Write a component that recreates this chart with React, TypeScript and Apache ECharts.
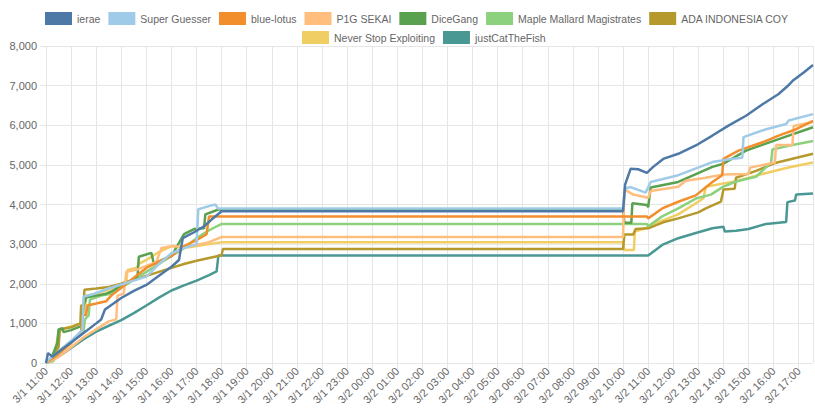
import React, { useEffect, useRef } from "react";
import * as echarts from "echarts";

// x values: hours elapsed since 3/1 11:00
const START_MONTH = 3;
const START_DAY = 1;
const START_HOUR = 11;
const X_MAX = 30.57;
const Y_TICKS = [0, 1000, 2000, 3000, 4000, 5000, 6000, 7000, 8000];

const TEAMS = [
  "ierae",
  "Super Guesser",
  "blue-lotus",
  "P1G SEKAI",
  "DiceGang",
  "Maple Mallard Magistrates",
  "ADA INDONESIA COY",
  "Never Stop Exploiting",
  "justCatTheFish",
];

const COLORS = [
  "#4e79a7",
  "#a0cbe8",
  "#f28e2b",
  "#ffbe7d",
  "#59a14f",
  "#8cd17d",
  "#b6992d",
  "#f1ce63",
  "#499894",
];

const ierae = [
  [0, 0], [0.08, 250], [0.25, 160], [0.6, 330], [1, 520], [1.5, 760], [2, 1000], [2.2, 1100],
  [2.35, 1350], [3, 1640], [3.5, 1820], [4, 1970], [4.5, 2200], [5, 2430], [5.3, 2600],
  [5.45, 3150], [5.9, 3300], [6.3, 3450], [6.6, 3620], [7, 3830], [23.0, 3830], [23.08, 4500],
  [23.3, 4900], [23.6, 4890], [23.95, 4800], [24.2, 4950], [24.6, 5150], [25.2, 5280],
  [25.9, 5490], [26.56, 5740], [27.2, 5990], [27.9, 6240], [28.56, 6530], [29.2, 6790],
  [29.56, 6990], [29.76, 7120], [30.2, 7330], [30.57, 7520],
];

const superGuesser = [
  [0, 0], [0.1, 80], [0.5, 280], [1, 560], [1.45, 830], [1.5, 1680], [1.8, 1720], [2.4, 1860],
  [3, 1980], [3.5, 2080], [4, 2180], [4.2, 2300], [4.5, 2500], [5, 2770], [5.5, 2900],
  [6.0, 3000], [6.07, 3880], [6.5, 3960], [6.75, 4000], [6.85, 3900], [7, 3900], [23, 3900],
  [23.08, 4400], [23.3, 4440], [23.9, 4300], [24.1, 4570], [25.2, 4740], [26.56, 5070],
  [27.3, 5150], [27.75, 5180], [27.8, 5700], [28.7, 5900], [29.5, 6030], [29.6, 6120],
  [30.57, 6280],
];

const blueLotus = [
  [0, 0], [0.5, 230], [1, 500], [1.4, 800], [1.45, 1200], [1.6, 1220], [1.65, 1450], [2, 1500],
  [2.4, 1560], [2.6, 1700], [3, 1900], [3.5, 2150], [4, 2400], [4.5, 2560], [5, 2700],
  [5.5, 2950], [6, 3100], [6.4, 3250], [6.5, 3700], [7, 3700], [23.95, 3700], [24.0, 3650],
  [24.56, 3900], [25.2, 4070], [25.9, 4230], [26.56, 4570], [26.95, 4740], [27.0, 5150],
  [27.6, 5360], [28.56, 5570], [29.2, 5740], [29.9, 5900], [30.57, 6110],
];

const p1gSekai = [
  [0, 0], [0.5, 150], [1, 400], [1.5, 650], [2, 850], [2.5, 1050], [2.8, 1100], [2.85, 1700],
  [3.1, 1750], [3.2, 2300], [3.6, 2350], [4, 2450], [4.4, 2550], [4.6, 2900], [5, 2950],
  [5.5, 2930], [6, 2980], [6.5, 3050], [7, 3180], [23, 3180], [23.05, 4380], [23.4, 4250],
  [24.0, 4170], [24.1, 4340], [25.2, 4450], [25.5, 4600], [26.3, 4675], [27.0, 4760],
  [28.0, 4770], [28.06, 4930], [29.05, 5060], [29.1, 5500], [29.75, 5500], [29.8, 5980],
  [30.57, 6080],
];

const diceGang = [
  [0, 0], [0.2, 100], [0.45, 500], [0.5, 850], [0.65, 880], [0.7, 780], [1, 830], [1.4, 930],
  [1.5, 1450], [1.6, 1650], [2, 1700], [2.4, 1750], [2.6, 1800], [3, 1950], [3.5, 2100],
  [3.65, 2200], [3.7, 2680], [4.2, 2780], [4.3, 2500], [4.8, 2650], [5, 2700], [5.5, 3250],
  [5.9, 3380], [6.3, 3400], [6.35, 3750], [6.9, 3880], [7, 3860], [23, 3860], [23.05, 3540],
  [23.33, 3540], [23.37, 4030], [23.95, 3990], [24.0, 3930], [24.1, 4430], [25.2, 4570],
  [26.56, 4950], [27, 5030], [27.9, 5360], [29.2, 5650], [30.57, 5950],
];

const mapleMallard = [
  [0, 0], [0.3, 50], [0.5, 300], [1, 550], [1.5, 800], [1.55, 1100], [1.7, 1200], [1.75, 1600],
  [2.2, 1700], [2.6, 1750], [3, 1900], [3.5, 2100], [4, 2300], [4.5, 2500], [5, 2700],
  [5.5, 2900], [6, 3150], [6.5, 3350], [7, 3510], [23.95, 3510], [24.0, 3450], [24.56, 3700],
  [25.2, 3900], [25.9, 4150], [26.5, 4250], [27, 4450], [27.5, 4580], [28.3, 4700],
  [28.9, 5060], [28.95, 5390], [29.5, 5470], [30.57, 5600],
];

const adaIndonesia = [
  [0, 0], [0.2, 100], [0.5, 400], [0.55, 820], [0.65, 860], [1, 900], [1.37, 1000], [1.4, 1450],
  [1.5, 1460], [1.53, 1850], [2, 1880], [2.5, 1920], [3, 2000], [3.5, 2100], [4, 2200],
  [4.5, 2300], [5, 2400], [5.5, 2500], [6, 2580], [6.5, 2650], [7, 2720], [7.05, 2880],
  [23, 2880], [23.05, 3240], [23.4, 3240], [23.5, 3380], [24, 3400], [24.2, 3450],
  [24.6, 3550], [25.2, 3650], [26, 3800], [26.3, 3900], [26.9, 4070], [27.0, 4380],
  [27.45, 4400], [27.5, 4675], [28.3, 4850], [29.1, 5055], [30.57, 5280],
];

const neverStop = [
  [0, 0], [0.3, 100], [0.5, 750], [0.6, 850], [1, 920], [1.4, 1000], [1.45, 1200], [1.55, 1250],
  [1.6, 1700], [2, 1750], [2.5, 1850], [3, 2000], [3.2, 2060], [3.25, 2350], [3.6, 2400],
  [3.7, 2500], [4, 2600], [4.5, 2800], [5, 2950], [5.5, 2900], [6, 2950], [6.5, 3000],
  [7, 3045], [23, 3045], [23.05, 2850], [23.43, 2850], [23.47, 3320], [23.9, 3400],
  [24.1, 3480], [25.2, 3750], [26.2, 4150], [26.3, 4450], [27.5, 4590], [28.5, 4760],
  [29.5, 4920], [30.57, 5060],
];

const justCatTheFish = [
  [0, 0], [0.5, 160], [1, 380], [1.5, 600], [2, 790], [2.5, 940], [3, 1080], [3.5, 1260],
  [4, 1450], [4.5, 1650], [5, 1830], [5.5, 1960], [6, 2080], [6.5, 2220], [6.8, 2310],
  [6.87, 2710], [24.0, 2710], [24.56, 2980], [25.2, 3150], [25.9, 3280], [26.56, 3400],
  [27, 3440], [27.05, 3320], [27.5, 3340], [28, 3380], [28.7, 3510], [29.5, 3560],
  [29.55, 4060], [29.85, 4100], [29.9, 4250], [30.57, 4280],
];

const SERIES_DATA = [
  ierae, superGuesser, blueLotus, p1gSekai, diceGang, mapleMallard, adaIndonesia, neverStop,
  justCatTheFish,
];

const FONT = "'Helvetica Neue', Helvetica, Arial, 'Liberation Sans', sans-serif";

function hourLabel(h: number): string {
  const total = START_HOUR + Math.round(h);
  const day = START_DAY + Math.floor(total / 24);
  const hr = total % 24;
  return `${START_MONTH}/${day} ${String(hr).padStart(2, "0")}:00`;
}

export default function App() {
  const ref = useRef<HTMLDivElement>(null);
  useEffect(() => {
    document.body.style.margin = "0";
    const chart = echarts.init(ref.current!, null, { renderer: "svg" });
    const legendCommon = {
      itemWidth: 27,
      itemHeight: 13,
      itemGap: 8,
      icon: "rect",
      textStyle: { color: "#666", fontSize: 10.5, fontFamily: FONT },
    };
    chart.setOption({
      animation: false,
      legend: [
        { ...legendCommon, left: 40, top: 7, data: TEAMS.slice(0, 7) },
        { ...legendCommon, left: 297, top: 26, data: TEAMS.slice(7) },
      ],
      grid: { left: 46, right: 2, top: 46, bottom: 49 },
      xAxis: {
        type: "value",
        min: 0,
        max: X_MAX,
        interval: 1,
        axisLine: { show: false },
        axisTick: { show: true, length: 6, lineStyle: { color: "#e6e6e6" } },
        splitLine: { show: true, lineStyle: { color: "#e6e6e6" } },
        axisLabel: {
          rotate: 45,
          margin: 6,
          color: "#666",
          fontSize: 11,
          fontFamily: FONT,
          showMaxLabel: false,
          formatter: (v: number) => hourLabel(v),
        },
      },
      yAxis: {
        type: "value",
        min: Y_TICKS[0],
        max: Y_TICKS[Y_TICKS.length - 1],
        interval: 1000,
        axisLine: { show: false },
        axisTick: { show: true, length: 6, lineStyle: { color: "#e6e6e6" } },
        splitLine: { show: true, lineStyle: { color: "#e6e6e6" } },
        axisLabel: {
          margin: 9,
          color: "#666",
          fontSize: 11,
          fontFamily: FONT,
          formatter: (v: number) => v.toLocaleString("en-US"),
        },
      },
      series: TEAMS.map((name, i) => ({
        name,
        type: "line",
        data: SERIES_DATA[i],
        showSymbol: false,
        symbol: "none",
        z: 20 - i,
        itemStyle: { color: COLORS[i] },
        lineStyle: { color: COLORS[i], width: 2.5 },
      })),
    });
    return () => chart.dispose();
  }, []);
  return <div ref={ref} style={{ width: 815, height: 412 }} />;
}
